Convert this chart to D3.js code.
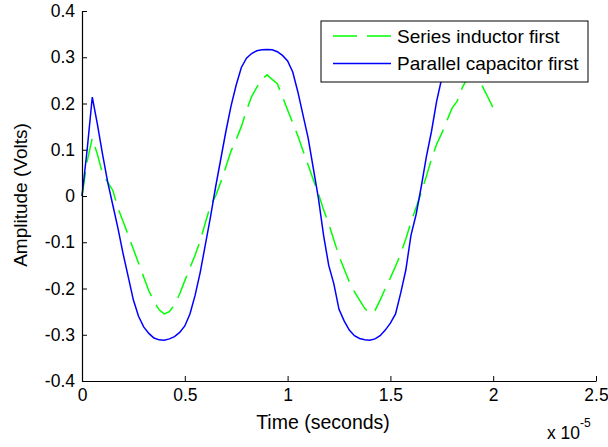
<!DOCTYPE html>
<html>
<head>
<meta charset="utf-8">
<script src="https://cdn.jsdelivr.net/npm/d3@7"></script>
<style>
  body { margin: 0; background: #fff; }
  text { font-family: "Liberation Sans", Arial, sans-serif; fill: #000; }
</style>
</head>
<body>
<div id="chart"></div>
<script>
// time axis, in units of 1e-5 s
var timeSteps = [0,0.025,0.05,0.075,0.1,0.125,0.15,0.175,0.2,0.225,0.25,0.275,0.3,0.325,0.35,0.375,0.4,0.425,0.45,0.475,
  0.5,0.525,0.55,0.575,0.6,0.625,0.65,0.675,0.7,0.725,0.75,0.775,0.8,0.825,0.85,0.875,0.9,0.925,0.95,0.975,
  1.0,1.025,1.05,1.075,1.1,1.125,1.15,1.175,1.2,1.225,1.25,1.275,1.3,1.325,1.35,1.375,1.4,1.425,1.45,1.475,
  1.5,1.525,1.55,1.575,1.6,1.625,1.65,1.675,1.7,1.725,1.75,1.775,1.8,1.825,1.85,1.875,1.9,1.925,1.95,1.975,2.0];

// Series inductor first (green, dashed)
var seriesInductor = [0,0.075,0.125,0.09,0.048,0.03,0.012,-0.026,-0.055,-0.085,-0.115,-0.145,-0.175,-0.205,-0.228,-0.246,-0.255,-0.25,-0.235,-0.212,
  -0.183,-0.155,-0.128,-0.097,-0.058,-0.02,0.0,0.03,0.063,0.097,0.122,0.15,0.185,0.215,0.235,0.252,0.262,0.252,0.243,0.215,
  0.186,0.158,0.13,0.098,0.067,0.035,0.005,-0.03,-0.06,-0.095,-0.13,-0.158,-0.185,-0.207,-0.225,-0.243,-0.254,-0.248,-0.225,-0.2,
  -0.177,-0.152,-0.125,-0.093,-0.057,-0.025,0.007,0.043,0.08,0.112,0.136,0.163,0.19,0.205,0.235,0.255,0.262,0.255,0.235,0.213,0.19];

// Parallel capacitor first (blue, solid)
var parallelCapacitor = [0,0.1,0.214,0.155,0.09,0.03,-0.02,-0.07,-0.125,-0.175,-0.225,-0.26,-0.283,-0.297,-0.307,-0.311,-0.312,-0.309,-0.304,-0.295,
  -0.281,-0.255,-0.215,-0.165,-0.105,-0.045,0.02,0.08,0.14,0.195,0.24,0.278,0.298,0.308,0.314,0.316,0.317,0.316,0.312,0.304,
  0.292,0.268,0.225,0.175,0.125,0.06,-0.005,-0.085,-0.15,-0.19,-0.245,-0.27,-0.29,-0.302,-0.308,-0.311,-0.312,-0.309,-0.302,-0.29,
  -0.275,-0.255,-0.21,-0.16,-0.085,-0.04,0.02,0.085,0.14,0.205,0.255,0.285,0.3,0.31,0.315,0.317,0.317,0.315,0.31,0.3,0.288];

var xTicks = [0, 0.5, 1, 1.5, 2, 2.5];
var yTicks = [-0.4, -0.3, -0.2, -0.1, 0, 0.1, 0.2, 0.3, 0.4];
var legendLabels = ["Series inductor first", "Parallel capacitor first"];

var width = 608, height = 447;
var margin = {left: 82, right: 12, top: 11, bottom: 66};

var svg = d3.select("#chart").append("svg").attr("width", width).attr("height", height);

var x = d3.scaleLinear().domain([0, 2.5]).range([margin.left, width - margin.right]);
var y = d3.scaleLinear().domain([-0.4, 0.4]).range([height - margin.bottom, margin.top]);

// lines first so the axes sit on top
var line = d3.line()
  .x(function(d, i){ return x(timeSteps[i]); })
  .y(function(d){ return y(d); });

svg.append("path")
  .datum(seriesInductor)
  .attr("fill", "none")
  .attr("stroke", "#00ff00")
  .attr("stroke-width", 1.5)
  .attr("stroke-dasharray", "24,10")
  .attr("d", line);

svg.append("path")
  .datum(parallelCapacitor)
  .attr("fill", "none")
  .attr("stroke", "#0000ff")
  .attr("stroke-width", 1.5)
  .attr("d", line);

// axes, ticks point inward like matlab
var xAxis = d3.axisBottom(x).tickValues(xTicks).tickSizeInner(-5).tickSizeOuter(0).tickPadding(8)
  .tickFormat(function(d){ return d3.format("")(d); });
var yAxis = d3.axisLeft(y).tickValues(yTicks).tickSizeInner(-5).tickSizeOuter(0).tickPadding(7)
  .tickFormat(function(d){ return d === 0 ? "0" : d3.format(".1f")(d).replace("−", "-"); });

var gx = svg.append("g").attr("transform", "translate(0," + (height - margin.bottom) + ")").call(xAxis);
var gy = svg.append("g").attr("transform", "translate(" + margin.left + ",0)").call(yAxis);

[gx, gy].forEach(function(g){
  g.select(".domain").attr("stroke", "#000").attr("stroke-width", 1.2);
  g.selectAll(".tick line").attr("stroke", "#000");
  g.selectAll(".tick text").style("font-size", "17.5px").attr("fill", "#111");
});

// axis labels
svg.append("text")
  .attr("x", x(1.25) - 16)
  .attr("y", 429)
  .attr("text-anchor", "middle")
  .style("font-size", "19.5px")
  .text("Time (seconds)");

svg.append("text")
  .attr("transform", "translate(27," + (y(0) - 1) + ") rotate(-90)")
  .attr("text-anchor", "middle")
  .style("font-size", "19px")
  .text("Amplitude (Volts)");

// x 10^-5 multiplier
var mult = svg.append("text").attr("x", 547).attr("y", 439).style("font-size", "17.5px");
mult.append("tspan").text("x 10");
mult.append("tspan").attr("dy", -12).style("font-size", "12px").text("-5");

// legend box, white so it hides the lines behind it
var legend = svg.append("g").attr("transform", "translate(321,21)");
legend.append("rect")
  .attr("width", 267).attr("height", 61)
  .attr("fill", "#fff").attr("stroke", "#000").attr("stroke-width", 1);

var legendStyles = [
  {color: "#00ff00", dash: "24,10"},
  {color: "#0000ff", dash: null}
];

legendLabels.forEach(function(label, i){
  var rowY = 15 + i * 27.5;
  legend.append("line")
    .attr("x1", 12).attr("x2", 70)
    .attr("y1", rowY).attr("y2", rowY)
    .attr("stroke", legendStyles[i].color)
    .attr("stroke-width", 1.5)
    .attr("stroke-dasharray", legendStyles[i].dash);
  legend.append("text")
    .attr("x", 76).attr("y", rowY)
    .attr("dy", "0.35em")
    .style("font-size", "19px")
    .text(label);
});
</script>
</body>
</html>
